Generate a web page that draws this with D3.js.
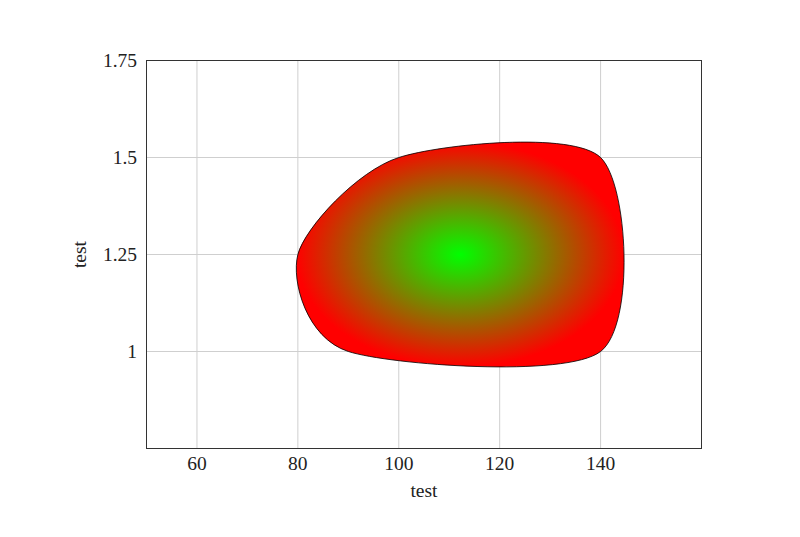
<!DOCTYPE html>
<html>
<head>
<meta charset="utf-8">
<script src="https://cdn.jsdelivr.net/npm/d3@7"></script>
<style>
  html, body { margin: 0; padding: 0; background: #fff; }
  text { font-family: "Liberation Serif", "Times New Roman", serif; fill: #222; }
</style>
</head>
<body>
<svg id="chart" width="800" height="537"></svg>
<script>
// Data: closed smooth region (x, y)
const regionX = [80, 100, 140, 140, 90];
const regionY = [1.25, 1.5, 1.5, 1.0, 1.0];
const xTicks = [60, 80, 100, 120, 140];
const yTicks = [1, 1.25, 1.5, 1.75];
const yTickLabels = ["1", "1.25", "1.5", "1.75"];
const xDomain = [50, 160];
const yDomain = [0.75, 1.75];
const xTitle = "test";
const yTitle = "test";

const svg = d3.select("#chart");
const mLeft = 146.5, mRight = 701.5, mTop = 60.5, mBottom = 448.5;

const x = d3.scaleLinear().domain(xDomain).range([mLeft, mRight]);
const y = d3.scaleLinear().domain(yDomain).range([mBottom, mTop]);

// gradient
const defs = svg.append("defs");
const grad = defs.append("radialGradient").attr("id", "rg")
  .attr("cx", 0.5).attr("cy", 0.5).attr("r", 0.5);
grad.append("stop").attr("offset", 0).attr("stop-color", "#00ff00");
grad.append("stop").attr("offset", 1).attr("stop-color", "#ff0000");

// grid
const g = svg.append("g");
g.selectAll("line.gx").data(xTicks).enter().append("line")
  .attr("x1", d => x(d)).attr("x2", d => x(d))
  .attr("y1", mTop).attr("y2", mBottom)
  .attr("stroke", "#cfcfcf").attr("stroke-width", 1);
g.selectAll("line.gy").data(yTicks).enter().append("line")
  .attr("x1", mLeft).attr("x2", mRight)
  .attr("y1", d => y(d)).attr("y2", d => y(d))
  .attr("stroke", "#cfcfcf").attr("stroke-width", 1);

// region
const pts = regionX.map((v, i) => [v, regionY[i]]);
const line = d3.line()
  .x(d => x(d[0])).y(d => y(d[1]))
  .curve(d3.curveCardinalClosed.tension(0.175));
svg.append("path").datum(pts)
  .attr("d", line)
  .attr("fill", "url(#rg)")
  .attr("stroke", "#000").attr("stroke-width", 0.8);

// frame
svg.append("rect").attr("x", mLeft).attr("y", mTop)
  .attr("width", mRight - mLeft).attr("height", mBottom - mTop)
  .attr("fill", "none").attr("stroke", "#333").attr("stroke-width", 1);

// tick labels
svg.selectAll("text.xt").data(xTicks).enter().append("text")
  .attr("x", d => x(d)).attr("y", 470)
  .attr("text-anchor", "middle").attr("font-size", 19.5)
  .text(d => d);
svg.selectAll("text.yt").data(yTicks).enter().append("text")
  .attr("x", 137).attr("y", d => y(d) + 6.5)
  .attr("text-anchor", "end").attr("font-size", 19.5)
  .text((d, i) => yTickLabels[i]);

// titles
svg.append("text").attr("x", (mLeft + mRight) / 2).attr("y", 497)
  .attr("text-anchor", "middle").attr("font-size", 19.5).text(xTitle);
svg.append("text")
  .attr("transform", `translate(86, ${(mTop + mBottom) / 2}) rotate(-90)`)
  .attr("text-anchor", "middle").attr("font-size", 19.5).text(yTitle);
</script>
</body>
</html>
